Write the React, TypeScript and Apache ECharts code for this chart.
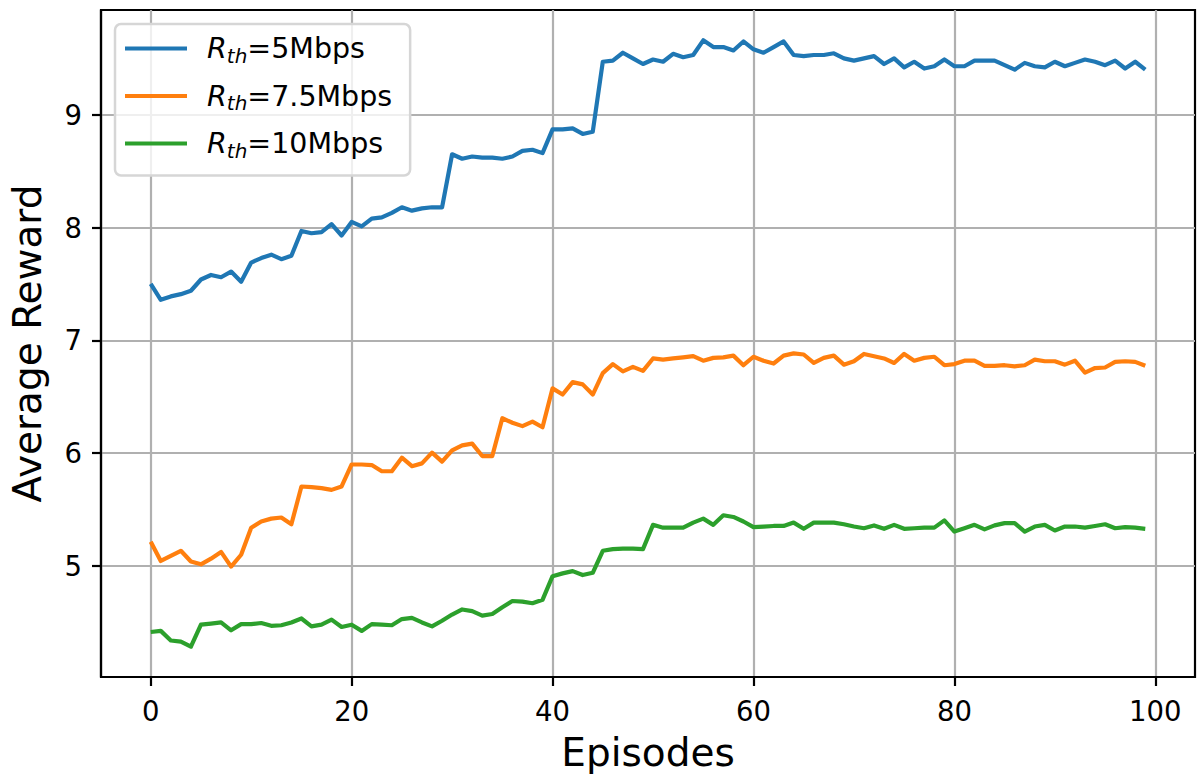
import React, { useEffect, useRef } from "react";
import * as echarts from "echarts";

// Average reward per episode for three rate thresholds
const rewardR5: number[] = [
  7.50, 7.36, 7.39, 7.41, 7.44, 7.54, 7.58, 7.56, 7.61, 7.52,
  7.69, 7.73, 7.76, 7.72, 7.75, 7.97, 7.95, 7.96, 8.03, 7.93,
  8.05, 8.01, 8.08, 8.09, 8.13, 8.18, 8.15, 8.17, 8.18, 8.18,
  8.65, 8.61, 8.63, 8.62, 8.62, 8.61, 8.63, 8.68, 8.69, 8.66,
  8.87, 8.87, 8.88, 8.83, 8.85, 9.47, 9.48, 9.55, 9.50, 9.45,
  9.49, 9.47, 9.54, 9.51, 9.53, 9.66, 9.60, 9.60, 9.57, 9.65,
  9.58, 9.55, 9.60, 9.65, 9.53, 9.52, 9.53, 9.53, 9.545, 9.50,
  9.48, 9.50, 9.52, 9.45, 9.50, 9.42, 9.47, 9.41, 9.43, 9.49,
  9.43, 9.43, 9.48, 9.48, 9.48, 9.44, 9.40, 9.46, 9.43, 9.42,
  9.47, 9.43, 9.46, 9.49, 9.47, 9.44, 9.48, 9.41, 9.47, 9.40,
];

const rewardR75: number[] = [
  5.215, 5.045, 5.09, 5.135, 5.04, 5.015, 5.065, 5.125, 4.995, 5.10,
  5.34, 5.395, 5.42, 5.43, 5.37, 5.705, 5.70, 5.69, 5.675, 5.705,
  5.90, 5.90, 5.895, 5.84, 5.84, 5.96, 5.885, 5.91, 6.005, 5.925,
  6.025, 6.07, 6.085, 5.975, 5.975, 6.31, 6.27, 6.24, 6.28, 6.23,
  6.575, 6.52, 6.63, 6.61, 6.52, 6.71, 6.79, 6.725, 6.765, 6.73,
  6.84, 6.83, 6.84, 6.85, 6.86, 6.82, 6.845, 6.85, 6.865, 6.78,
  6.855, 6.82, 6.795, 6.865, 6.885, 6.875, 6.80, 6.845, 6.865, 6.785,
  6.815, 6.88, 6.86, 6.84, 6.80, 6.88, 6.82, 6.845, 6.855, 6.78,
  6.79, 6.82, 6.82, 6.775, 6.775, 6.78, 6.77, 6.78, 6.83, 6.815,
  6.815, 6.785, 6.82, 6.715, 6.755, 6.76, 6.81, 6.815, 6.81, 6.775,
];

const rewardR10: number[] = [
  4.415, 4.425, 4.34, 4.33, 4.285, 4.48, 4.49, 4.50, 4.43, 4.485,
  4.485, 4.495, 4.47, 4.475, 4.50, 4.535, 4.465, 4.48, 4.525, 4.46,
  4.48, 4.425, 4.485, 4.48, 4.475, 4.53, 4.54, 4.50, 4.465, 4.515,
  4.57, 4.615, 4.60, 4.56, 4.575, 4.635, 4.69, 4.685, 4.67, 4.70,
  4.91, 4.935, 4.955, 4.92, 4.94, 5.135, 5.15, 5.155, 5.155, 5.15,
  5.365, 5.34, 5.34, 5.34, 5.385, 5.42, 5.365, 5.45, 5.435, 5.395,
  5.345, 5.35, 5.355, 5.355, 5.385, 5.33, 5.385, 5.385, 5.385, 5.37,
  5.35, 5.335, 5.36, 5.33, 5.365, 5.33, 5.335, 5.34, 5.34, 5.405,
  5.305, 5.335, 5.365, 5.325, 5.36, 5.38, 5.38, 5.305, 5.35, 5.365,
  5.315, 5.35, 5.35, 5.34, 5.355, 5.37, 5.335, 5.345, 5.34, 5.33,
];

const seriesNames = ["5Mbps", "7.5Mbps", "10Mbps"];
const seriesColors = ["#1f77b4", "#ff7f0e", "#2ca02c"];
const xTicks = [0, 20, 40, 60, 80, 100];
const yTicks = [5, 6, 7, 8, 9];

const FONT = "DejaVu Sans";

export default function App() {
  const ref = useRef<HTMLDivElement>(null);

  useEffect(() => {
    if (!ref.current) return;
    const chart = echarts.init(ref.current, undefined, { renderer: "svg" });

    const allSeries = [rewardR5, rewardR75, rewardR10];
    const toPairs = (vals: number[]) => vals.map((v, i) => [i, v]);

    // axis limits with a 5% margin around the data, like matplotlib's autoscale
    const n = rewardR5.length;
    const xPad = 0.05 * (n - 1);
    const flat = allSeries.flat();
    const yLo = Math.min(...flat);
    const yHi = Math.max(...flat);
    const yPad = 0.05 * (yHi - yLo);

    const option: echarts.EChartsOption = {
      animation: false,
      backgroundColor: "#ffffff",
      textStyle: { fontFamily: FONT },
      grid: {
        left: 101,
        right: 9,
        top: 10,
        bottom: 106,
        show: true,
        borderColor: "#000000",
        borderWidth: 2.2,
        backgroundColor: "transparent",
      },
      legend: {
        orient: "vertical",
        left: 115,
        top: 24,
        padding: [10, 18, 15, 10],
        itemGap: 16,
        itemWidth: 62,
        itemHeight: 4,
        icon: "rect",
        backgroundColor: "rgba(255,255,255,0.8)",
        borderColor: "#d6d6d6",
        borderWidth: 2.5,
        borderRadius: 6,
        data: seriesNames,
        formatter: (name: string) => `{r|R}{s|th}{t|=${name}}`,
        textStyle: {
          fontFamily: FONT,
          color: "#000000",
          rich: {
            r: {
              fontFamily: FONT,
              fontSize: 28.5,
              fontStyle: "italic",
              lineHeight: 34,
              color: "#000000",
              padding: [0, 0, 0, 15],
            },
            s: {
              fontFamily: FONT,
              fontSize: 20,
              fontStyle: "italic",
              lineHeight: 20,
              verticalAlign: "bottom",
              color: "#000000",
            },
            t: {
              fontFamily: FONT,
              fontSize: 28.5,
              lineHeight: 34,
              color: "#000000",
            },
          },
        },
      },
      xAxis: {
        type: "value",
        min: -xPad,
        max: n - 1 + xPad,
        name: "Episodes",
        nameLocation: "middle",
        nameGap: 56,
        nameTextStyle: { fontFamily: FONT, fontSize: 39, color: "#000000" },
        axisLine: { show: true, onZero: false, lineStyle: { color: "#000000", width: 2.2 } },
        axisTick: {
          show: true,
          length: 9,
          customValues: xTicks,
          lineStyle: { color: "#000000", width: 2.2 },
        },
        axisLabel: {
          customValues: xTicks,
          fontFamily: FONT,
          fontSize: 27.5,
          color: "#000000",
          margin: 20,
        },
        splitLine: { show: true, lineStyle: { color: "#b0b0b0", width: 2.2 } },
      },
      yAxis: {
        type: "value",
        min: yLo - yPad,
        max: yHi + yPad,
        name: "Average Reward",
        nameLocation: "middle",
        nameGap: 54,
        nameTextStyle: { fontFamily: FONT, fontSize: 39, color: "#000000" },
        axisLine: { show: true, onZero: false, lineStyle: { color: "#000000", width: 2.2 } },
        axisTick: {
          show: true,
          length: 9,
          customValues: yTicks,
          lineStyle: { color: "#000000", width: 2.2 },
        },
        axisLabel: {
          customValues: yTicks,
          fontFamily: FONT,
          fontSize: 27.5,
          color: "#000000",
          margin: 19,
        },
        splitLine: { show: true, lineStyle: { color: "#b0b0b0", width: 2.2 } },
      },
      series: allSeries.map((vals, k) => ({
        name: seriesNames[k],
        type: "line",
        data: toPairs(vals),
        showSymbol: false,
        symbol: "none",
        color: seriesColors[k],
        lineStyle: { color: seriesColors[k], width: 4.2, join: "round" },
        emphasis: { disabled: true },
      })),
    };

    chart.setOption(option);
    return () => chart.dispose();
  }, []);

  return (
    <div
      ref={ref}
      style={{ position: "absolute", left: 0, top: 0, width: 1204, height: 783 }}
    />
  );
}
